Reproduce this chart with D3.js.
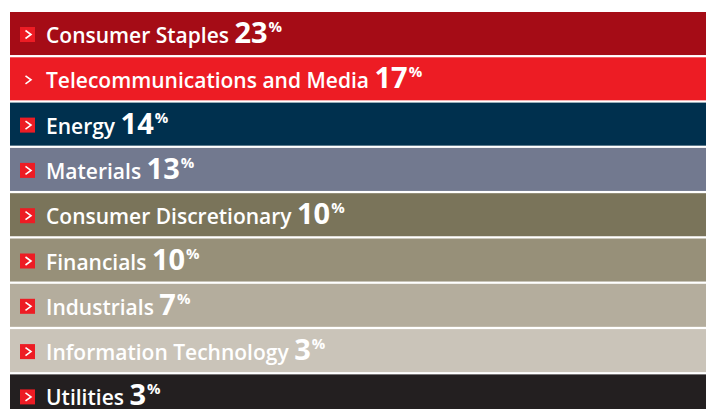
<!DOCTYPE html>
<html>
<head>
<meta charset="utf-8">
<script src="https://cdn.jsdelivr.net/npm/d3@7"></script>
<style>
  body { margin: 0; background: #fff; }
  svg { display: block; }
</style>
</head>
<body>
<script>
// sector weights
const sectors = ["Consumer Staples", "Telecommunications and Media", "Energy", "Materials",
  "Consumer Discretionary", "Financials", "Industrials", "Information Technology", "Utilities"];
const weights = [23, 17, 14, 13, 10, 10, 7, 3, 3];
const bandColors = ["#a50c16", "#ed1c24", "#00304e", "#72798f", "#7a745a",
  "#979079", "#b4ad9d", "#cac4b9", "#231f20"];

const width = 706, height = 409;
const fontFam = "'Open Sans', sans-serif";

const svg = d3.select("body").append("svg")
  .attr("width", width)
  .attr("height", height);

const y = d3.scaleBand()
  .domain(sectors)
  .range([12, 12 + 8.95 * 45.3])
  .paddingInner(0.05)
  .paddingOuter(0);

const rows = svg.selectAll(".row")
  .data(sectors)
  .enter()
  .append("g")
  .attr("class", "row")
  .attr("transform", d => `translate(0,${y(d)})`);

rows.append("rect")
  .attr("x", 10)
  .attr("width", width - 10)
  .attr("height", y.bandwidth())
  .attr("fill", (d, i) => bandColors[i]);

// little red arrow box (not on the red band)
rows.filter((d, i) => bandColors[i] != "#ed1c24")
  .append("rect")
  .attr("x", 20)
  .attr("y", 15)
  .attr("width", 15)
  .attr("height", 15)
  .attr("fill", "#ed1c24");

rows.append("path")
  .attr("d", "M25.5,18.5 L31,22.5 L25.5,26.5")
  .attr("fill", "none")
  .attr("stroke", "#fff")
  .attr("stroke-width", 1.6);

const txt = rows.append("text")
  .attr("x", 46)
  .attr("y", 31)
  .attr("fill", "#fff")
  .style("font-family", fontFam);

txt.append("tspan")
  .style("font-size", "21px")
  .style("font-weight", 600)
  .text(d => d + " ");

txt.append("tspan")
  .style("font-size", "29px")
  .style("font-weight", 700)
  .text((d, i) => weights[i]);

txt.append("tspan")
  .attr("dy", -11)
  .attr("dx", 1)
  .style("font-size", "15px")
  .style("font-weight", 700)
  .text("%");
</script>
</body>
</html>
